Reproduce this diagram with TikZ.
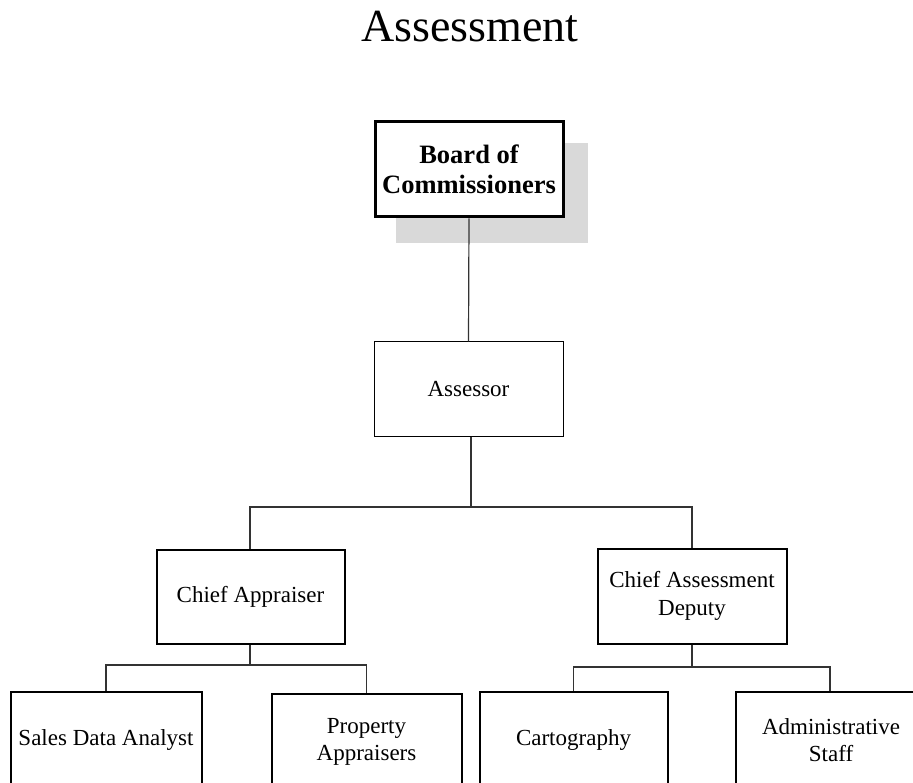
\documentclass[tikz,border=0pt]{standalone}
\usepackage{fontspec}
\setmainfont{Liberation Serif}
\tikzset{
  box/.style={draw=black, rectangle, inner sep=0pt, align=center, fill=white,
    font=\fontsize{23}{27.5}\selectfont},
  conn/.style={draw=black!80, line width=1.2pt},
}
\begin{document}
\begin{tikzpicture}[x=1pt,y=-1pt]
\useasboundingbox (0,0) rectangle (913,783);
\clip (0,0) rectangle (913,783);
% title
\node[anchor=base, inner sep=0pt, font=\fontsize{46}{52}\selectfont] (title) at (470,42) {Assessment};
% shadow
\fill[black!15] (396,143) rectangle (588,243);
% nodes
\node[box, line width=3pt, minimum width=188pt, minimum height=95pt,
  font=\fontsize{26.5}{30}\selectfont\bfseries] (board) at (469,169.5) {Board of\\Commissioners};
\node[box, line width=1pt, minimum width=189pt, minimum height=94pt] (assessor) at (468.5,389) {Assessor};
\node[box, line width=2pt, minimum width=188pt, minimum height=94pt] (chiefa) at (250.5,596.5) {Chief Appraiser};
\node[box, line width=2pt, minimum width=189pt, minimum height=95pt] (chiefd) at (692,596) {Chief Assessment\\Deputy};
\node[box, line width=2pt, minimum width=191pt, minimum height=96pt] (sales) at (106,740) {Sales Data Analyst};
\node[box, line width=2pt, minimum width=190pt, minimum height=96pt] (prop) at (366.5,742) {Property\\Appraisers};
\node[box, line width=2pt, minimum width=188pt, minimum height=96pt] (carto) at (573.5,740) {Cartography};
\node[box, line width=2pt, minimum width=190pt, minimum height=96pt] (admin) at (831,740) {Administrative\\Staff};
% junctions
\coordinate (j1) at (471,507);
\coordinate (j2) at (250,665);
\coordinate (j3) at (692,667);
% connectors
\draw[conn] (board.south) -- (assessor.north);
\draw[conn] (assessor.south -| j1) -- (j1);
\draw[conn] (chiefa.north -| j2) |- (j1) -| (chiefd.north);
\draw[conn] (chiefa.south -| j2) -- (j2);
\draw[conn] (sales.north) |- (j2) -| (prop.north);
\draw[conn] (chiefd.south) -- (j3);
\draw[conn] (carto.north) |- (j3) -| (admin.north -| 830,0);
\end{tikzpicture}
\end{document}
